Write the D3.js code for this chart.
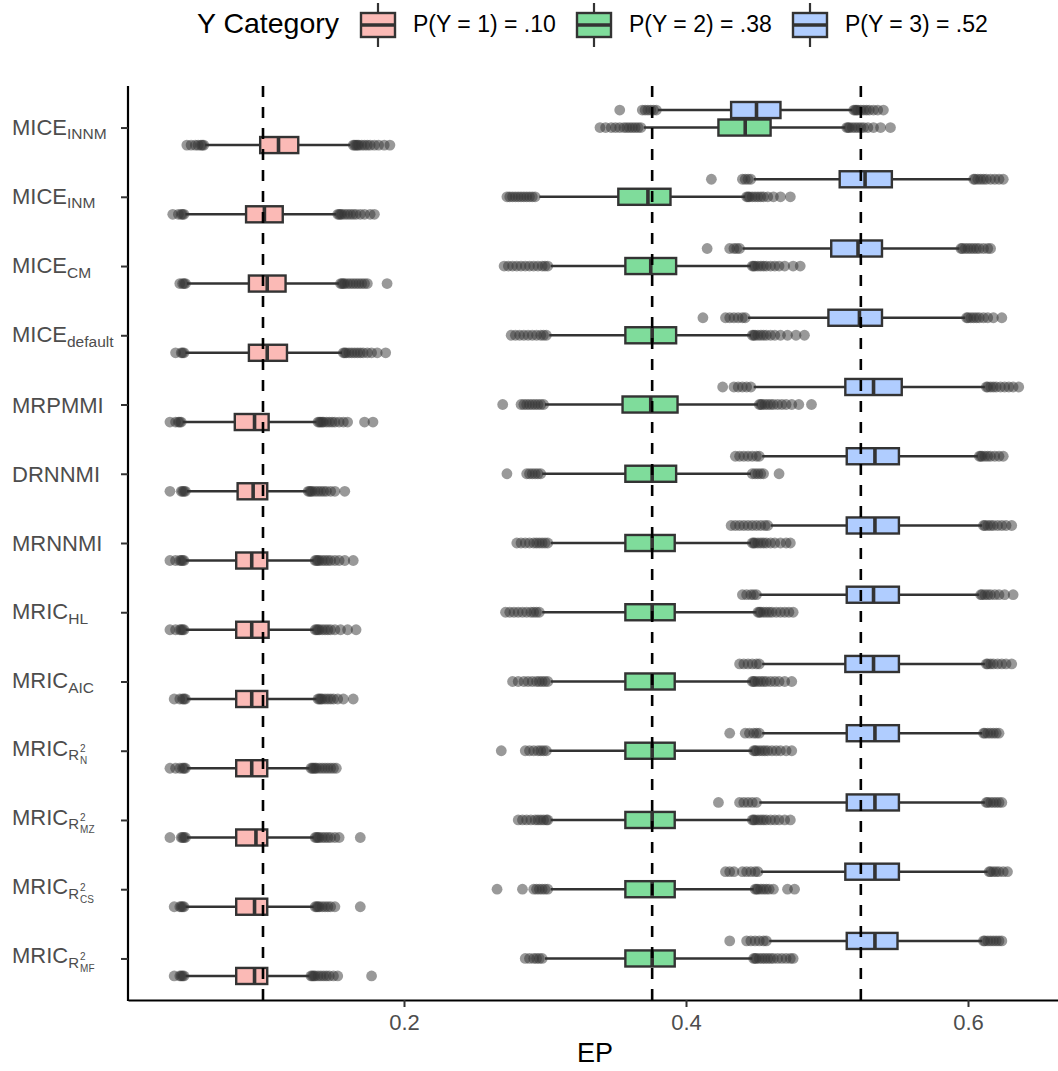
<!DOCTYPE html>
<html>
<head>
<meta charset="utf-8">
<script src="https://cdn.jsdelivr.net/npm/d3@7"></script>
<style>
  body { margin: 0; background: #fff; }
  text { font-family: "Liberation Sans", Arial, Helvetica, sans-serif; }
</style>
</head>
<body>
<div class="canva"></div>
<script>
// methods, top to bottom
const labelBase = ["MICE", "MICE", "MICE", "MICE", "MRPMMI", "DRNNMI", "MRNNMI",
                   "MRIC", "MRIC", "MRIC", "MRIC", "MRIC", "MRIC"];
const labelSub  = ["INNM", "INM", "CM", "default", "", "", "",
                   "HL", "AIC", "N", "MZ", "CS", "MF"];
const labelR2   = [false, false, false, false, false, false, false,
                   false, false, true, true, true, true];

const groupLabels = ["P(Y = 1) = .10", "P(Y = 2) = .38", "P(Y = 3) = .52"];
const trueProps = [0.10, 0.376, 0.524];
const xTicks = [0.2, 0.4, 0.6];

// box stats per method: [lower whisker, q1, median, q3, upper whisker]
const boxY1 = [
  [0.059, 0.098, 0.111, 0.125, 0.162],
  [0.045, 0.088, 0.101, 0.114, 0.152],
  [0.046, 0.090, 0.103, 0.116, 0.154],
  [0.045, 0.090, 0.103, 0.117, 0.156],
  [0.043, 0.080, 0.094, 0.104, 0.138],
  [0.046, 0.082, 0.093, 0.103, 0.131],
  [0.045, 0.081, 0.092, 0.103, 0.136],
  [0.045, 0.081, 0.092, 0.104, 0.136],
  [0.046, 0.081, 0.092, 0.103, 0.138],
  [0.046, 0.081, 0.092, 0.103, 0.133],
  [0.046, 0.081, 0.095, 0.103, 0.136],
  [0.045, 0.081, 0.094, 0.103, 0.136],
  [0.045, 0.081, 0.094, 0.103, 0.133]
];
const boxY2 = [
  [0.370, 0.423, 0.442, 0.460, 0.513],
  [0.296, 0.352, 0.373, 0.389, 0.442],
  [0.304, 0.357, 0.375, 0.393, 0.446],
  [0.303, 0.357, 0.376, 0.393, 0.446],
  [0.300, 0.355, 0.375, 0.394, 0.451],
  [0.298, 0.357, 0.376, 0.393, 0.446],
  [0.304, 0.357, 0.376, 0.392, 0.446],
  [0.298, 0.357, 0.376, 0.392, 0.450],
  [0.304, 0.357, 0.376, 0.392, 0.446],
  [0.303, 0.357, 0.376, 0.392, 0.447],
  [0.304, 0.357, 0.376, 0.392, 0.446],
  [0.304, 0.357, 0.376, 0.392, 0.448],
  [0.300, 0.357, 0.376, 0.392, 0.447]
];
const boxY3 = [
  [0.380, 0.432, 0.450, 0.467, 0.518],
  [0.448, 0.509, 0.527, 0.546, 0.602],
  [0.440, 0.503, 0.522, 0.539, 0.594],
  [0.444, 0.501, 0.523, 0.539, 0.598],
  [0.448, 0.513, 0.533, 0.553, 0.612],
  [0.454, 0.514, 0.534, 0.551, 0.607],
  [0.460, 0.514, 0.534, 0.551, 0.610],
  [0.452, 0.514, 0.533, 0.551, 0.608],
  [0.454, 0.513, 0.533, 0.551, 0.612],
  [0.454, 0.514, 0.534, 0.551, 0.610],
  [0.452, 0.514, 0.534, 0.551, 0.612],
  [0.453, 0.513, 0.534, 0.551, 0.614],
  [0.459, 0.514, 0.534, 0.550, 0.610]
];

// outlying points per method
const outY1 = [
  [0.046, 0.049, 0.052, 0.054, 0.056, 0.057, 0.058, 0.164, 0.165, 0.166, 0.167, 0.168, 0.170, 0.172, 0.174, 0.176, 0.179, 0.182, 0.186, 0.190],
  [0.036, 0.040, 0.042, 0.043, 0.044, 0.153, 0.154, 0.155, 0.156, 0.158, 0.160, 0.162, 0.164, 0.166, 0.169, 0.172, 0.176, 0.179],
  [0.041, 0.043, 0.044, 0.045, 0.155, 0.156, 0.157, 0.158, 0.160, 0.162, 0.164, 0.166, 0.168, 0.170, 0.172, 0.174, 0.188],
  [0.038, 0.042, 0.043, 0.044, 0.157, 0.158, 0.159, 0.161, 0.163, 0.165, 0.167, 0.169, 0.171, 0.174, 0.177, 0.181, 0.187],
  [0.034, 0.038, 0.040, 0.041, 0.042, 0.139, 0.140, 0.141, 0.142, 0.143, 0.145, 0.147, 0.149, 0.151, 0.154, 0.157, 0.160, 0.172, 0.178],
  [0.034, 0.042, 0.043, 0.044, 0.045, 0.132, 0.133, 0.134, 0.135, 0.137, 0.139, 0.141, 0.143, 0.145, 0.148, 0.151, 0.158],
  [0.034, 0.038, 0.041, 0.042, 0.043, 0.044, 0.137, 0.138, 0.139, 0.140, 0.142, 0.144, 0.146, 0.148, 0.151, 0.154, 0.158, 0.164],
  [0.034, 0.038, 0.041, 0.042, 0.043, 0.044, 0.137, 0.138, 0.139, 0.140, 0.142, 0.144, 0.146, 0.148, 0.151, 0.155, 0.160, 0.166],
  [0.037, 0.041, 0.043, 0.044, 0.045, 0.139, 0.140, 0.141, 0.142, 0.144, 0.146, 0.148, 0.150, 0.153, 0.157, 0.164],
  [0.034, 0.038, 0.041, 0.043, 0.044, 0.045, 0.134, 0.135, 0.136, 0.137, 0.138, 0.140, 0.142, 0.144, 0.146, 0.148, 0.150, 0.152],
  [0.034, 0.042, 0.043, 0.044, 0.045, 0.137, 0.138, 0.139, 0.140, 0.142, 0.144, 0.146, 0.148, 0.151, 0.154, 0.169],
  [0.037, 0.041, 0.042, 0.043, 0.044, 0.137, 0.138, 0.139, 0.140, 0.142, 0.144, 0.146, 0.148, 0.151, 0.169],
  [0.037, 0.041, 0.042, 0.043, 0.044, 0.134, 0.135, 0.136, 0.137, 0.139, 0.141, 0.143, 0.145, 0.147, 0.150, 0.153, 0.177]
];
const outY2 = [
  [0.339, 0.343, 0.347, 0.350, 0.353, 0.356, 0.358, 0.360, 0.362, 0.364, 0.366, 0.368, 0.514, 0.515, 0.516, 0.518, 0.520, 0.522, 0.524, 0.526, 0.529, 0.533, 0.538, 0.545],
  [0.273, 0.275, 0.277, 0.279, 0.281, 0.283, 0.285, 0.287, 0.289, 0.291, 0.293, 0.443, 0.444, 0.445, 0.447, 0.449, 0.451, 0.453, 0.455, 0.458, 0.462, 0.467, 0.474],
  [0.271, 0.274, 0.277, 0.280, 0.283, 0.286, 0.289, 0.292, 0.295, 0.298, 0.300, 0.302, 0.447, 0.448, 0.449, 0.451, 0.453, 0.455, 0.457, 0.460, 0.463, 0.466, 0.470, 0.476, 0.481],
  [0.276, 0.279, 0.282, 0.285, 0.288, 0.291, 0.294, 0.297, 0.299, 0.301, 0.447, 0.448, 0.449, 0.451, 0.453, 0.455, 0.457, 0.460, 0.463, 0.467, 0.472, 0.478, 0.484],
  [0.270, 0.283, 0.285, 0.287, 0.289, 0.291, 0.293, 0.295, 0.297, 0.299, 0.452, 0.453, 0.454, 0.456, 0.458, 0.460, 0.462, 0.465, 0.468, 0.471, 0.475, 0.480, 0.489],
  [0.273, 0.287, 0.289, 0.291, 0.293, 0.295, 0.297, 0.447, 0.449, 0.451, 0.453, 0.455, 0.466],
  [0.280, 0.283, 0.286, 0.289, 0.292, 0.294, 0.296, 0.298, 0.300, 0.302, 0.447, 0.448, 0.449, 0.451, 0.453, 0.455, 0.457, 0.460, 0.463, 0.467, 0.471, 0.474],
  [0.272, 0.275, 0.278, 0.281, 0.284, 0.287, 0.290, 0.292, 0.294, 0.296, 0.451, 0.452, 0.453, 0.455, 0.457, 0.459, 0.461, 0.464, 0.467, 0.470, 0.473, 0.476],
  [0.277, 0.281, 0.285, 0.288, 0.291, 0.294, 0.296, 0.298, 0.300, 0.302, 0.447, 0.448, 0.449, 0.451, 0.453, 0.455, 0.457, 0.460, 0.463, 0.466, 0.470, 0.475],
  [0.269, 0.286, 0.289, 0.292, 0.295, 0.297, 0.299, 0.301, 0.448, 0.449, 0.450, 0.452, 0.454, 0.456, 0.458, 0.461, 0.464, 0.467, 0.471, 0.475],
  [0.281, 0.284, 0.287, 0.290, 0.293, 0.295, 0.297, 0.299, 0.301, 0.302, 0.447, 0.448, 0.449, 0.451, 0.453, 0.455, 0.457, 0.460, 0.463, 0.466, 0.470, 0.474],
  [0.266, 0.284, 0.292, 0.294, 0.296, 0.298, 0.300, 0.302, 0.449, 0.450, 0.451, 0.453, 0.455, 0.457, 0.459, 0.462, 0.472, 0.477],
  [0.286, 0.289, 0.292, 0.294, 0.296, 0.298, 0.448, 0.449, 0.450, 0.452, 0.454, 0.456, 0.458, 0.460, 0.462, 0.465, 0.468, 0.471, 0.474, 0.476]
];
const outY3 = [
  [0.353, 0.369, 0.371, 0.373, 0.375, 0.377, 0.379, 0.519, 0.520, 0.521, 0.522, 0.524, 0.526, 0.528, 0.530, 0.533, 0.536, 0.540],
  [0.418, 0.440, 0.442, 0.444, 0.446, 0.604, 0.605, 0.607, 0.609, 0.611, 0.613, 0.616, 0.619, 0.622, 0.625],
  [0.415, 0.431, 0.434, 0.436, 0.438, 0.595, 0.596, 0.598, 0.600, 0.602, 0.604, 0.606, 0.608, 0.611, 0.614, 0.616],
  [0.412, 0.428, 0.431, 0.434, 0.437, 0.440, 0.442, 0.599, 0.600, 0.602, 0.604, 0.606, 0.608, 0.611, 0.614, 0.618, 0.624],
  [0.426, 0.434, 0.437, 0.440, 0.443, 0.446, 0.613, 0.614, 0.616, 0.618, 0.620, 0.623, 0.626, 0.629, 0.632, 0.636],
  [0.435, 0.438, 0.441, 0.444, 0.447, 0.450, 0.452, 0.608, 0.609, 0.610, 0.612, 0.614, 0.616, 0.619, 0.622, 0.625],
  [0.432, 0.435, 0.438, 0.441, 0.444, 0.447, 0.450, 0.453, 0.456, 0.458, 0.611, 0.612, 0.614, 0.616, 0.618, 0.621, 0.624, 0.627, 0.631],
  [0.440, 0.443, 0.446, 0.448, 0.450, 0.609, 0.610, 0.612, 0.614, 0.616, 0.619, 0.622, 0.626, 0.632],
  [0.438, 0.441, 0.444, 0.447, 0.450, 0.452, 0.613, 0.614, 0.616, 0.618, 0.621, 0.624, 0.627, 0.631],
  [0.431, 0.442, 0.445, 0.448, 0.450, 0.452, 0.611, 0.612, 0.614, 0.616, 0.618, 0.620, 0.622],
  [0.423, 0.438, 0.441, 0.444, 0.447, 0.450, 0.613, 0.614, 0.616, 0.618, 0.620, 0.622, 0.624],
  [0.428, 0.431, 0.434, 0.440, 0.443, 0.446, 0.449, 0.451, 0.615, 0.616, 0.618, 0.620, 0.622, 0.625, 0.628],
  [0.431, 0.443, 0.446, 0.449, 0.452, 0.455, 0.457, 0.611, 0.612, 0.614, 0.616, 0.618, 0.620, 0.622, 0.624]
];

const groupColors = ["#F8766D", "#00BA38", "#619CFF"];
const groupBoxes = [boxY1, boxY2, boxY3];
const groupOut = [outY1, outY2, outY3];

const width = 1058, height = 1071;
const panel = {left: 128, right: 1058, top: 86, bottom: 1000};

const svg = d3.select(".canva").append("svg")
    .attr("width", width)
    .attr("height", height);

// x scale anchored on the tick positions, then widened to the panel
const x = d3.scaleLinear().domain([0.2, 0.6]).range([404, 968]);
x.domain([x.invert(panel.left), x.invert(panel.right)]).range([panel.left, panel.right]);

const y = d3.scalePoint()
    .domain(d3.range(labelBase.length))
    .range([panel.top, panel.bottom])
    .padding(0.6);
const step = y.step();
const dodge = step * 0.253;
const boxH = step * 0.232;
const shift = [dodge, 0, -dodge];   // red lowest, blue on top

const marks = svg.append("g");

groupBoxes.forEach((boxes, gi) => {
  const g = marks.append("g");
  const cy = i => y(i) + shift[gi];

  // outliers
  g.selectAll("circle")
    .data(groupOut[gi].flatMap((vals, i) => vals.map(v => ({i, v}))))
    .join("circle")
      .attr("cx", d => x(d.v))
      .attr("cy", d => cy(d.i))
      .attr("r", 5.4)
      .attr("fill", "#333333")
      .attr("fill-opacity", 0.5);

  // whiskers
  g.selectAll("line.whisker")
    .data(boxes)
    .join("line")
      .attr("class", "whisker")
      .attr("x1", d => x(d[0]))
      .attr("x2", d => x(d[4]))
      .attr("y1", (d, i) => cy(i))
      .attr("y2", (d, i) => cy(i))
      .attr("stroke", "#333333")
      .attr("stroke-width", 2.4);

  // boxes (white under the half transparent fill)
  g.selectAll("rect.bg")
    .data(boxes)
    .join("rect")
      .attr("class", "bg")
      .attr("x", d => x(d[1]))
      .attr("width", d => x(d[3]) - x(d[1]))
      .attr("y", (d, i) => cy(i) - boxH / 2)
      .attr("height", boxH)
      .attr("fill", "#fff");
  g.selectAll("rect.fill")
    .data(boxes)
    .join("rect")
      .attr("class", "fill")
      .attr("x", d => x(d[1]))
      .attr("width", d => x(d[3]) - x(d[1]))
      .attr("y", (d, i) => cy(i) - boxH / 2)
      .attr("height", boxH)
      .attr("fill", groupColors[gi])
      .attr("fill-opacity", 0.5)
      .attr("stroke", "#333333")
      .attr("stroke-width", 2.4);

  // medians
  g.selectAll("line.median")
    .data(boxes)
    .join("line")
      .attr("class", "median")
      .attr("x1", d => x(d[2]))
      .attr("x2", d => x(d[2]))
      .attr("y1", (d, i) => cy(i) - boxH / 2)
      .attr("y2", (d, i) => cy(i) + boxH / 2)
      .attr("stroke", "#333333")
      .attr("stroke-width", 3.6);
});

// true proportions
svg.append("g").selectAll("line")
  .data(trueProps)
  .join("line")
    .attr("x1", d => x(d))
    .attr("x2", d => x(d))
    .attr("y1", panel.top)
    .attr("y2", panel.bottom)
    .attr("stroke", "#000")
    .attr("stroke-width", 2.6)
    .attr("stroke-dasharray", "11,10");

// x axis
const xAxis = svg.append("g")
    .attr("transform", `translate(0, ${panel.bottom})`)
    .call(d3.axisBottom(x).tickValues(xTicks).tickFormat(d3.format(".1f"))
          .tickSize(7).tickSizeOuter(0).tickPadding(7));
xAxis.select(".domain").attr("stroke", "#000").attr("stroke-width", 2.2);
xAxis.selectAll(".tick line").attr("stroke", "#333").attr("stroke-width", 2);
xAxis.selectAll(".tick text").attr("fill", "#4d4d4d").attr("font-size", 22)
    .attr("font-family", null);

// y axis (labels added by hand for the subscripts)
const yAxis = svg.append("g")
    .attr("transform", `translate(${panel.left}, 0)`)
    .call(d3.axisLeft(y).tickFormat("").tickSize(7).tickSizeOuter(0));
yAxis.select(".domain").attr("stroke", "#000").attr("stroke-width", 2.2)
    .attr("d", `M0,${panel.top}V${panel.bottom + 1}`);
yAxis.selectAll(".tick line").attr("stroke", "#333").attr("stroke-width", 2);

const yLabels = svg.append("g").attr("fill", "#4d4d4d");
labelBase.forEach((base, i) => {
  const ty = y(i);
  const g = yLabels.append("g");
  const main = g.append("text")
      .attr("x", 12)
      .attr("y", ty + (labelR2[i] ? 5 : labelSub[i] ? 7 : 8))
      .attr("font-size", 22)
      .text(base);
  if (!labelSub[i]) return;
  if (!labelR2[i]) {
    main.append("tspan").attr("dy", 4.5).attr("font-size", 15.5).text(labelSub[i]);
    return;
  }
  main.append("tspan").attr("dy", 4.5).attr("font-size", 15).text("R");
  const xe = 12 + main.node().getComputedTextLength() + 1;
  const baseY = +main.attr("y") + 4.5;
  g.append("text").attr("x", xe).attr("y", baseY - 8)
      .attr("font-size", 10).text("2");
  g.append("text").attr("x", xe).attr("y", baseY + 4)
      .attr("font-size", 10).text(labelSub[i]);
});

// x title
svg.append("text")
    .attr("x", 595)
    .attr("y", 1062)
    .attr("text-anchor", "middle")
    .attr("font-size", 27)
    .attr("fill", "#000")
    .text("EP");

// legend
const legend = svg.append("g");
legend.append("text")
    .attr("x", 197)
    .attr("y", 33)
    .attr("font-size", 28.5)
    .attr("fill", "#000")
    .text("Y Category");

const keyX = [361, 577, 793];
const keys = legend.selectAll("g.key")
  .data(groupLabels)
  .join("g")
    .attr("class", "key")
    .attr("transform", (d, i) => `translate(${keyX[i]}, 0)`);
keys.append("line")
    .attr("x1", 17).attr("x2", 17).attr("y1", 3).attr("y2", 47)
    .attr("stroke", "#333").attr("stroke-width", 2.2);
keys.append("rect")
    .attr("x", 0).attr("y", 13).attr("width", 34).attr("height", 24)
    .attr("fill", "#fff");
keys.append("rect")
    .attr("x", 0).attr("y", 13).attr("width", 34).attr("height", 24)
    .attr("fill", (d, i) => groupColors[i])
    .attr("fill-opacity", 0.5)
    .attr("stroke", "#333").attr("stroke-width", 2.4);
keys.append("line")
    .attr("x1", 0).attr("x2", 34).attr("y1", 25).attr("y2", 25)
    .attr("stroke", "#333").attr("stroke-width", 3.4);
keys.append("text")
    .attr("x", 52)
    .attr("y", 32)
    .attr("font-size", 23)
    .attr("fill", "#000")
    .text(d => d);
</script>
</body>
</html>
